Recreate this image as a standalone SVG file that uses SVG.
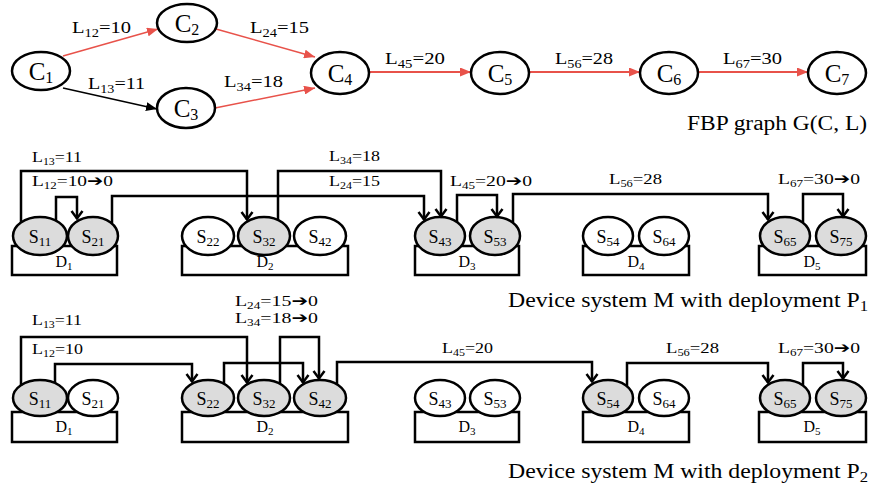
<svg xmlns="http://www.w3.org/2000/svg" width="873" height="494" viewBox="0 0 873 494">
<style>
text{font-family:"Liberation Serif","Times New Roman",serif;fill:#000}
.arr{font-family:"DejaVu Sans",sans-serif;font-weight:bold}
.c ellipse{fill:#fff;stroke:#000;stroke-width:2.5}
.cn{font-size:25px;text-anchor:middle}
.s ellipse{stroke:#000;stroke-width:2.5}
.g ellipse{fill:#dcdcdc}
.w ellipse{fill:#fff}
.sn{font-size:18px;text-anchor:middle}
.d rect{fill:#fff;stroke:#000;stroke-width:2.5}
.dn{font-size:16px;text-anchor:middle}
.lt{font-size:17px}
.lm{font-size:15px}
.big{font-size:20px}
.red{fill:none;stroke:#e8524a;stroke-width:1.5;marker-end:url(#tr)}
.redh{fill:none;stroke:#e8524a;stroke-width:2.2;marker-end:url(#tr)}
.blk{fill:none;stroke:#000;stroke-width:1.5;marker-end:url(#tb)}
.wire{fill:none;stroke:#000;stroke-width:2.5;marker-end:url(#chev)}
</style>
<defs>
<marker id="tr" markerUnits="userSpaceOnUse" markerWidth="11" markerHeight="9" viewBox="0 0 11 9" refX="11" refY="4.5" orient="auto"><path d="M0,0 L11,4.5 L0,9 z" fill="#e8524a"/></marker>
<marker id="tb" markerUnits="userSpaceOnUse" markerWidth="11" markerHeight="9" viewBox="0 0 11 9" refX="11" refY="4.5" orient="auto"><path d="M0,0 L11,4.5 L0,9 z" fill="#000"/></marker>
<marker id="chev" markerUnits="userSpaceOnUse" markerWidth="14" markerHeight="14" viewBox="0 0 14 14" refX="10" refY="7" orient="auto"><path d="M2,1.5 L9.5,7 L2,12.5" fill="none" stroke="#000" stroke-width="2.5"/></marker>
</defs>

<!-- FBP graph -->
<g id="edges-graph">
<path class="red" d="M63,56 L158,29"/>
<path class="blk" d="M63,88 L157,109"/>
<path class="red" d="M216,29 L315,57"/>
<path class="red" d="M215,108 L315,88"/>
<path class="redh" d="M369,72 L471,72"/>
<path class="redh" d="M529,72 L640,72"/>
<path class="redh" d="M698,72 L808,72"/>
<text class="lt" x="72" y="33" textLength="59" lengthAdjust="spacingAndGlyphs">L<tspan font-size="12" dy="4">12</tspan><tspan dy="-4">=10</tspan></text>
<text class="lt" x="88" y="89" textLength="57" lengthAdjust="spacingAndGlyphs">L<tspan font-size="12" dy="4">13</tspan><tspan dy="-4">=11</tspan></text>
<text class="lt" x="250" y="33" textLength="59" lengthAdjust="spacingAndGlyphs">L<tspan font-size="12" dy="4">24</tspan><tspan dy="-4">=15</tspan></text>
<text class="lt" x="224" y="87" textLength="59" lengthAdjust="spacingAndGlyphs">L<tspan font-size="12" dy="4">34</tspan><tspan dy="-4">=18</tspan></text>
<text class="lt" x="385" y="64" textLength="60" lengthAdjust="spacingAndGlyphs">L<tspan font-size="12" dy="4">45</tspan><tspan dy="-4">=20</tspan></text>
<text class="lt" x="555" y="64" textLength="58" lengthAdjust="spacingAndGlyphs">L<tspan font-size="12" dy="4">56</tspan><tspan dy="-4">=28</tspan></text>
<text class="lt" x="723" y="64" textLength="59" lengthAdjust="spacingAndGlyphs">L<tspan font-size="12" dy="4">67</tspan><tspan dy="-4">=30</tspan></text>
</g>
<g id="C1" class="c"><ellipse cx="41" cy="71" rx="29" ry="19"/><text class="cn" x="41" y="80">C<tspan font-size="16" dy="3">1</tspan></text></g>
<g id="C2" class="c"><ellipse cx="187" cy="23" rx="30" ry="19"/><text class="cn" x="187" y="32">C<tspan font-size="16" dy="3">2</tspan></text></g>
<g id="C3" class="c"><ellipse cx="186" cy="108" rx="29" ry="20"/><text class="cn" x="186" y="117">C<tspan font-size="16" dy="3">3</tspan></text></g>
<g id="C4" class="c"><ellipse cx="340" cy="73" rx="29" ry="21"/><text class="cn" x="340" y="82">C<tspan font-size="16" dy="3">4</tspan></text></g>
<g id="C5" class="c"><ellipse cx="500" cy="73" rx="29" ry="21"/><text class="cn" x="500" y="82">C<tspan font-size="16" dy="3">5</tspan></text></g>
<g id="C6" class="c"><ellipse cx="669" cy="73" rx="29" ry="21"/><text class="cn" x="669" y="82">C<tspan font-size="16" dy="3">6</tspan></text></g>
<g id="C7" class="c"><ellipse cx="837" cy="73" rx="29" ry="21"/><text class="cn" x="837" y="82">C<tspan font-size="16" dy="3">7</tspan></text></g>
<text class="big" x="687" y="130" textLength="180" lengthAdjust="spacingAndGlyphs">FBP graph G(C, L)</text>

<!-- Deployment P1 -->
<g id="P1-devices">
<g id="P1-D1" class="d"><rect x="12" y="246" width="105" height="29"/><text class="dn" x="64" y="267">D<tspan font-size="11" dy="3">1</tspan></text></g>
<g id="P1-D2" class="d"><rect x="182" y="246" width="166" height="29"/><text class="dn" x="265" y="267">D<tspan font-size="11" dy="3">2</tspan></text></g>
<g id="P1-D3" class="d"><rect x="415" y="246" width="104" height="29"/><text class="dn" x="467" y="267">D<tspan font-size="11" dy="3">3</tspan></text></g>
<g id="P1-D4" class="d"><rect x="583" y="246" width="106" height="29"/><text class="dn" x="636" y="267">D<tspan font-size="11" dy="3">4</tspan></text></g>
<g id="P1-D5" class="d"><rect x="759" y="246" width="107" height="29"/><text class="dn" x="812" y="267">D<tspan font-size="11" dy="3">5</tspan></text></g>
</g>
<g id="P1-S11" class="s g"><ellipse cx="40" cy="236" rx="27" ry="19"/><text class="sn" x="40" y="243">S<tspan font-size="13" dy="3">11</tspan></text></g>
<g id="P1-S21" class="s g"><ellipse cx="93" cy="236" rx="25" ry="19"/><text class="sn" x="93" y="243">S<tspan font-size="13" dy="3">21</tspan></text></g>
<g id="P1-S22" class="s w"><ellipse cx="208" cy="236" rx="26" ry="19"/><text class="sn" x="208" y="243">S<tspan font-size="13" dy="3">22</tspan></text></g>
<g id="P1-S32" class="s g"><ellipse cx="264" cy="236" rx="26" ry="19"/><text class="sn" x="264" y="243">S<tspan font-size="13" dy="3">32</tspan></text></g>
<g id="P1-S42" class="s w"><ellipse cx="320" cy="236" rx="26" ry="19"/><text class="sn" x="320" y="243">S<tspan font-size="13" dy="3">42</tspan></text></g>
<g id="P1-S43" class="s g"><ellipse cx="440" cy="236" rx="25" ry="19"/><text class="sn" x="440" y="243">S<tspan font-size="13" dy="3">43</tspan></text></g>
<g id="P1-S53" class="s g"><ellipse cx="495" cy="236" rx="25" ry="19"/><text class="sn" x="495" y="243">S<tspan font-size="13" dy="3">53</tspan></text></g>
<g id="P1-S54" class="s w"><ellipse cx="608" cy="236" rx="25" ry="19"/><text class="sn" x="608" y="243">S<tspan font-size="13" dy="3">54</tspan></text></g>
<g id="P1-S64" class="s w"><ellipse cx="664" cy="236" rx="25" ry="19"/><text class="sn" x="664" y="243">S<tspan font-size="13" dy="3">64</tspan></text></g>
<g id="P1-S65" class="s g"><ellipse cx="785" cy="236" rx="25" ry="19"/><text class="sn" x="785" y="243">S<tspan font-size="13" dy="3">65</tspan></text></g>
<g id="P1-S75" class="s g"><ellipse cx="841" cy="236" rx="25" ry="19"/><text class="sn" x="841" y="243">S<tspan font-size="13" dy="3">75</tspan></text></g>
<g id="P1-connectors">
<path class="wire" d="M21,223 V171 H247 V220"/>
<path class="wire" d="M56,221 V197 H77 V219"/>
<path class="wire" d="M112,223 V196 H424 V220"/>
<path class="wire" d="M278,220 V171 H441 V217"/>
<path class="wire" d="M457,222 V195 H497 V217"/>
<path class="wire" d="M513,222 V194 H768 V220"/>
<path class="wire" d="M803,222 V194 H843 V217"/>
<text class="lm" x="32" y="162" textLength="50" lengthAdjust="spacingAndGlyphs">L<tspan font-size="10" dy="3">13</tspan><tspan dy="-3">=11</tspan></text>
<text class="lm" x="32" y="186" textLength="81" lengthAdjust="spacingAndGlyphs">L<tspan font-size="10" dy="3">12</tspan><tspan dy="-3">=10</tspan><tspan class="arr">➔</tspan>0</text>
<text class="lm" x="329" y="161" textLength="51" lengthAdjust="spacingAndGlyphs">L<tspan font-size="10" dy="3">34</tspan><tspan dy="-3">=18</tspan></text>
<text class="lm" x="329" y="186" textLength="51" lengthAdjust="spacingAndGlyphs">L<tspan font-size="10" dy="3">24</tspan><tspan dy="-3">=15</tspan></text>
<text class="lm" x="450" y="186" textLength="82" lengthAdjust="spacingAndGlyphs">L<tspan font-size="10" dy="3">45</tspan><tspan dy="-3">=20</tspan><tspan class="arr">➔</tspan>0</text>
<text class="lm" x="609" y="184" textLength="53" lengthAdjust="spacingAndGlyphs">L<tspan font-size="10" dy="3">56</tspan><tspan dy="-3">=28</tspan></text>
<text class="lm" x="778" y="184" textLength="82" lengthAdjust="spacingAndGlyphs">L<tspan font-size="10" dy="3">67</tspan><tspan dy="-3">=30</tspan><tspan class="arr">➔</tspan>0</text>
</g>
<text class="big" x="508" y="307" textLength="360" lengthAdjust="spacingAndGlyphs">Device system M with deployment P<tspan font-size="14" dy="4">1</tspan></text>

<!-- Deployment P2 -->
<g id="P2-devices">
<g id="P2-D1" class="d"><rect x="12" y="412" width="105" height="30"/><text class="dn" x="64" y="432">D<tspan font-size="11" dy="3">1</tspan></text></g>
<g id="P2-D2" class="d"><rect x="182" y="412" width="166" height="30"/><text class="dn" x="265" y="432">D<tspan font-size="11" dy="3">2</tspan></text></g>
<g id="P2-D3" class="d"><rect x="415" y="412" width="104" height="30"/><text class="dn" x="467" y="432">D<tspan font-size="11" dy="3">3</tspan></text></g>
<g id="P2-D4" class="d"><rect x="583" y="412" width="106" height="30"/><text class="dn" x="636" y="432">D<tspan font-size="11" dy="3">4</tspan></text></g>
<g id="P2-D5" class="d"><rect x="759" y="412" width="107" height="30"/><text class="dn" x="812" y="432">D<tspan font-size="11" dy="3">5</tspan></text></g>
</g>
<g id="P2-S11" class="s g"><ellipse cx="40" cy="398" rx="27" ry="18"/><text class="sn" x="40" y="405">S<tspan font-size="13" dy="3">11</tspan></text></g>
<g id="P2-S21" class="s w"><ellipse cx="93" cy="398" rx="25" ry="18"/><text class="sn" x="93" y="405">S<tspan font-size="13" dy="3">21</tspan></text></g>
<g id="P2-S22" class="s g"><ellipse cx="208" cy="398" rx="26" ry="18"/><text class="sn" x="208" y="405">S<tspan font-size="13" dy="3">22</tspan></text></g>
<g id="P2-S32" class="s g"><ellipse cx="264" cy="398" rx="26" ry="18"/><text class="sn" x="264" y="405">S<tspan font-size="13" dy="3">32</tspan></text></g>
<g id="P2-S42" class="s g"><ellipse cx="320" cy="398" rx="26" ry="18"/><text class="sn" x="320" y="405">S<tspan font-size="13" dy="3">42</tspan></text></g>
<g id="P2-S43" class="s w"><ellipse cx="440" cy="398" rx="25" ry="18"/><text class="sn" x="440" y="405">S<tspan font-size="13" dy="3">43</tspan></text></g>
<g id="P2-S53" class="s w"><ellipse cx="495" cy="398" rx="25" ry="18"/><text class="sn" x="495" y="405">S<tspan font-size="13" dy="3">53</tspan></text></g>
<g id="P2-S54" class="s g"><ellipse cx="608" cy="398" rx="25" ry="18"/><text class="sn" x="608" y="405">S<tspan font-size="13" dy="3">54</tspan></text></g>
<g id="P2-S64" class="s w"><ellipse cx="664" cy="398" rx="25" ry="18"/><text class="sn" x="664" y="405">S<tspan font-size="13" dy="3">64</tspan></text></g>
<g id="P2-S65" class="s g"><ellipse cx="785" cy="398" rx="25" ry="18"/><text class="sn" x="785" y="405">S<tspan font-size="13" dy="3">65</tspan></text></g>
<g id="P2-S75" class="s g"><ellipse cx="841" cy="398" rx="25" ry="18"/><text class="sn" x="841" y="405">S<tspan font-size="13" dy="3">75</tspan></text></g>
<g id="P2-connectors">
<path class="wire" d="M21,386 V337 H247 V383"/>
<path class="wire" d="M55,383 V364 H192 V382"/>
<path class="wire" d="M224,384 V363 H303 V383"/>
<path class="wire" d="M280,384 V337 H319 V379"/>
<path class="wire" d="M337,384 V362 H592 V382"/>
<path class="wire" d="M627,386 V363 H768 V383"/>
<path class="wire" d="M803,385 V363 H843 V379"/>
<text class="lm" x="32" y="325" textLength="50" lengthAdjust="spacingAndGlyphs">L<tspan font-size="10" dy="3">13</tspan><tspan dy="-3">=11</tspan></text>
<text class="lm" x="32" y="354" textLength="51" lengthAdjust="spacingAndGlyphs">L<tspan font-size="10" dy="3">12</tspan><tspan dy="-3">=10</tspan></text>
<text class="lm" x="235" y="306" textLength="83" lengthAdjust="spacingAndGlyphs">L<tspan font-size="10" dy="3">24</tspan><tspan dy="-3">=15</tspan><tspan class="arr">➔</tspan>0</text>
<text class="lm" x="235" y="323" textLength="83" lengthAdjust="spacingAndGlyphs">L<tspan font-size="10" dy="3">34</tspan><tspan dy="-3">=18</tspan><tspan class="arr">➔</tspan>0</text>
<text class="lm" x="442" y="353" textLength="51" lengthAdjust="spacingAndGlyphs">L<tspan font-size="10" dy="3">45</tspan><tspan dy="-3">=20</tspan></text>
<text class="lm" x="666" y="353" textLength="53" lengthAdjust="spacingAndGlyphs">L<tspan font-size="10" dy="3">56</tspan><tspan dy="-3">=28</tspan></text>
<text class="lm" x="778" y="353" textLength="82" lengthAdjust="spacingAndGlyphs">L<tspan font-size="10" dy="3">67</tspan><tspan dy="-3">=30</tspan><tspan class="arr">➔</tspan>0</text>
</g>
<text class="big" x="508" y="478" textLength="360" lengthAdjust="spacingAndGlyphs">Device system M with deployment P<tspan font-size="14" dy="4">2</tspan></text>
</svg>
